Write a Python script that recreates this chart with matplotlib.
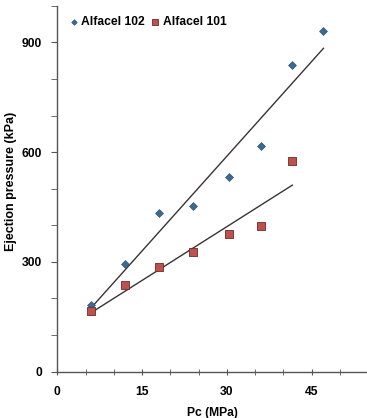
import numpy as np
import matplotlib
matplotlib.use("Agg")
import matplotlib.pyplot as plt
import matplotlib.ticker as ticker

plt.rcParams['font.family'] = ['Liberation Sans', 'DejaVu Sans']
plt.rcParams['font.weight'] = 'bold'

# Alfacel 102 (diamonds)
pc_102 = [6, 12, 18, 24, 30.4, 36, 41.6, 47.1]
ep_102 = [181, 295, 433, 453, 533, 617, 837, 931]
# Alfacel 101 (squares)
pc_101 = [6, 12, 18, 24, 30.4, 36, 41.6]
ep_101 = [165, 237, 285, 326, 375, 399, 575]

fs = 8.7
fig = plt.figure(figsize=(3.67, 4.18), dpi=100)
ax = fig.add_axes([0.156, 0.111, 0.847, 0.875])

# linear trend lines
for x, y in [(pc_102, ep_102), (pc_101, ep_101)]:
    m, b = np.polyfit(x, y, 1)
    xs = np.array([min(x), max(x)])
    ax.plot(xs, m * xs + b, color='#3b3333', lw=1.0, zorder=2)

ax.scatter(pc_102, ep_102, marker='D', s=16, color='#3d6a8f', edgecolor='#2e5578',
           lw=0.5, zorder=3, label='Alfacel 102')
ax.scatter(pc_101, ep_101, marker='s', s=30, color='#c0504d', edgecolor='#6b2a28',
           lw=0.6, zorder=3, label='Alfacel 101')

ax.set_xlim(0, 55)
ax.set_ylim(0, 1000)
ax.xaxis.set_major_locator(ticker.FixedLocator([0, 15, 30, 45]))
ax.xaxis.set_minor_locator(ticker.MultipleLocator(5))
ax.yaxis.set_major_locator(ticker.FixedLocator([0, 300, 600, 900]))
ax.yaxis.set_minor_locator(ticker.MultipleLocator(100))

for s in ['top', 'right']:
    ax.spines[s].set_visible(False)
for s in ['left', 'bottom']:
    ax.spines[s].set_color('#555555')
    ax.spines[s].set_linewidth(1.0)

ax.tick_params(axis='x', which='both', direction='inout', length=5, color='#555555',
               labelsize=fs, pad=8)
ax.tick_params(axis='y', which='both', direction='out', length=4, color='#555555',
               labelsize=fs, pad=7)

ax.set_xlabel('Pc (MPa)', fontsize=fs, fontweight='bold', labelpad=6)
ax.set_ylabel('Ejection pressure (kPa)', fontsize=9, fontweight='bold')
ax.yaxis.set_label_coords(-0.13, 0.52)

ax.legend(loc='upper left', bbox_to_anchor=(0.0, 1.0), ncol=2, frameon=False,
          fontsize=fs, handletextpad=0.1, columnspacing=0.4, markerscale=0.7,
          borderaxespad=0.45, handlelength=1.0)

fig.savefig('out.png', dpi=100)
